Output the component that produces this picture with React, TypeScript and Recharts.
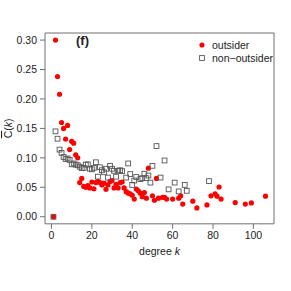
import { ScatterChart, Scatter, XAxis, YAxis, ReferenceArea, Legend } from "recharts";

// outsider nodes: degree k and mean clustering C(k)
const outsiderK = [
  1, 2, 3, 4, 5, 6, 7, 8, 9, 10, 11, 12, 13, 14, 15, 16, 17, 18, 19, 20,
  21, 22, 23, 24, 25, 26, 27, 28, 29, 30, 31, 32, 33, 34, 35, 36, 37, 38, 39, 40,
  41, 42, 43, 44, 45, 46, 47, 48, 50, 51, 52, 53, 55, 56, 57, 60, 63, 64, 65, 70,
  72, 77, 79, 81, 82, 83, 84, 91, 96, 99, 106,
];
const outsiderC = [
  0, 0.3, 0.238, 0.208, 0.16, 0.15, 0.132, 0.155, 0.114, 0.128, 0.125, 0.105, 0.1, 0.058, 0.065, 0.0515, 0.05, 0.053, 0.049, 0.059,
  0.0475, 0.058, 0.06, 0.058, 0.054, 0.057, 0.0465, 0.054, 0.06, 0.0615, 0.049, 0.055, 0.049, 0.058, 0.059, 0.049, 0.0425, 0.04, 0.039, 0.0365,
  0.03, 0.047, 0.044, 0.04, 0.034, 0.041, 0.0315, 0.0825, 0.0355, 0.028, 0.065, 0.0315, 0.033, 0.033, 0.03, 0.03, 0.0315, 0.0355, 0.0215, 0.0265,
  0.015, 0.02, 0.0355, 0.039, 0.035, 0.0505, 0.03, 0.024, 0.0215, 0.0235, 0.035,
];

// non-outsider nodes
const nonOutsiderK = [
  1, 2, 3, 4, 5, 6, 7, 8, 9, 10, 11, 12, 13, 14, 15, 16, 17, 18, 19, 20,
  21, 22, 23, 24, 25, 26, 27, 28, 29, 30, 31, 32, 33, 34, 35, 37, 38, 39, 40, 41,
  42, 44, 45, 46, 47, 48, 49, 50, 52, 54, 56, 58, 61, 63, 66, 67, 78,
];
const nonOutsiderC = [
  0, 0.145, 0.1325, 0.114, 0.1085, 0.1015, 0.098, 0.099, 0.0965, 0.089, 0.0905, 0.0885, 0.0875, 0.085, 0.0825, 0.083, 0.0885, 0.089, 0.0815, 0.0805,
  0.083, 0.0925, 0.068, 0.084, 0.079, 0.0755, 0.0815, 0.0665, 0.0865, 0.0815, 0.078, 0.068, 0.078, 0.079, 0.0775, 0.0665, 0.0905, 0.0725, 0.054, 0.0615,
  0.0675, 0.064, 0.0655, 0.073, 0.0655, 0.07, 0.058, 0.0865, 0.12, 0.0665, 0.0955, 0.0465, 0.058, 0.043, 0.054, 0.044, 0.0605,
];

const xTicks = [0, 20, 40, 60, 80, 100];
const yTicks = [0, 0.05, 0.1, 0.15, 0.2, 0.25, 0.3];

const outsider = outsiderK.map((k, i) => ({ k, c: outsiderC[i] }));
const nonOutsider = nonOutsiderK.map((k, i) => ({ k, c: nonOutsiderC[i] }));

const FONT = "'Liberation Sans', Arial, Helvetica, sans-serif";
const AXIS_GREY = "#707070";

const Dot = (props: any) => <circle cx={props.cx} cy={props.cy} r={2.6} fill="#ff0000" />;

const Square = (props: any) => (
  <rect
    x={props.cx - 2.4}
    y={props.cy - 2.4}
    width={4.8}
    height={4.8}
    fill="none"
    stroke="#555"
    strokeWidth={0.9}
  />
);

const YLabel = ({ viewBox }: any) => {
  const cx = viewBox.x + 8;
  const cy = viewBox.y + viewBox.height / 2;
  return (
    <text
      transform={`translate(${cx},${cy}) rotate(-90)`}
      textAnchor="middle"
      dominantBaseline="central"
      fontSize={10.5}
      fill="#222"
      fontFamily={FONT}
    >
      <tspan textDecoration="overline">C</tspan>(<tspan fontStyle="italic">k</tspan>)
    </text>
  );
};

const XLabel = ({ viewBox }: any) => {
  const cx = viewBox.x + viewBox.width / 2;
  const y = viewBox.y + 31;
  return (
    <text x={cx} y={y} textAnchor="middle" fontSize={10.5} fill="#222" fontFamily={FONT}>
      degree <tspan fontStyle="italic">k</tspan>
    </text>
  );
};

const LegendBox = () => (
  <div style={{ fontFamily: FONT, fontSize: 10.5, color: "#222", lineHeight: "12.6px" }}>
    <div style={{ display: "flex", alignItems: "center" }}>
      <svg width={10} height={10} style={{ marginRight: 5 }}>
        <circle cx={5} cy={5} r={2.6} fill="#ff0000" />
      </svg>
      outsider
    </div>
    <div style={{ display: "flex", alignItems: "center" }}>
      <svg width={10} height={10} style={{ marginRight: 5 }}>
        <rect x={2.6} y={2.6} width={4.8} height={4.8} fill="none" stroke="#555" strokeWidth={0.9} />
      </svg>
      non−outsider
    </div>
  </div>
);

export default function App() {
  return (
    <div style={{ position: "absolute", left: 0, top: 0, width: 291, height: 291, background: "#fff" }}>
      <ScatterChart width={291} height={291} margin={{ top: 33, right: 17, left: 0, bottom: 0 }}>
        <XAxis
          type="number"
          dataKey="k"
          domain={[-3.2, 110.2]}
          ticks={xTicks}
          allowDataOverflow
          height={42}
          axisLine={false}
          tickLine={{ stroke: AXIS_GREY }}
          tickSize={5}
          tickMargin={3}
          tick={{ fontSize: 10.5, fill: "#222", fontFamily: FONT }}
          label={<XLabel />}
        />
        <YAxis
          type="number"
          dataKey="c"
          domain={[-0.012, 0.312]}
          ticks={yTicks}
          allowDataOverflow
          width={45}
          axisLine={false}
          tickLine={{ stroke: AXIS_GREY }}
          tickSize={5}
          tickMargin={3}
          tickFormatter={(v: number) => v.toFixed(2)}
          tick={{ fontSize: 10.5, fill: "#222", fontFamily: FONT }}
          label={<YLabel />}
        />
        <ReferenceArea
          x1={-3.2}
          x2={110.2}
          y1={-0.012}
          y2={0.312}
          fill="none"
          stroke={AXIS_GREY}
          strokeWidth={1}
          ifOverflow="visible"
        />
        <Scatter name="outsider" data={outsider} shape={Dot} isAnimationActive={false} />
        <Scatter name="non-outsider" data={nonOutsider} shape={Square} isAnimationActive={false} />
        <Legend
          content={<LegendBox />}
          wrapperStyle={{ position: "absolute", top: 39, left: 197, width: "auto" }}
        />
      </ScatterChart>
      <div
        style={{
          position: "absolute",
          left: 76,
          top: 33,
          fontFamily: FONT,
          fontWeight: "bold",
          fontSize: 13,
          color: "#222",
        }}
      >
        (f)
      </div>
    </div>
  );
}
